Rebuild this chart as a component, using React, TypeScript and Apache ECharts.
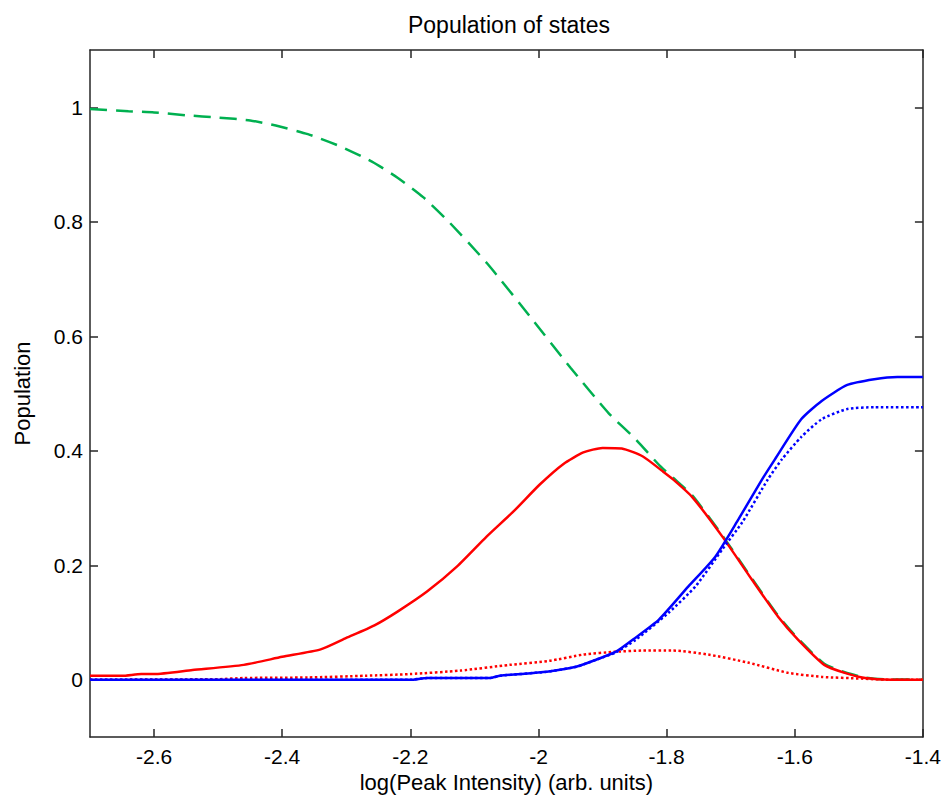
import React, { useEffect, useRef } from "react";
import * as echarts from "echarts";

// Ground state (green dashed)
const groundX = [-2.7, -2.64, -2.6, -2.55, -2.5, -2.45, -2.41, -2.36, -2.31, -2.26, -2.22, -2.18, -2.14, -2.08, -2.01, -1.95, -1.89, -1.85, -1.81, -1.79, -1.76, -1.713, -1.667, -1.626, -1.595, -1.554, -1.522, -1.49, -1.46, -1.4];
const groundY = [0.997, 0.993, 0.991, 0.986, 0.982, 0.977, 0.968, 0.953, 0.932, 0.905, 0.877, 0.843, 0.8, 0.727, 0.63, 0.545, 0.465, 0.422, 0.373, 0.353, 0.322, 0.252, 0.177, 0.112, 0.072, 0.028, 0.013, 0.004, 0.001, 0];

// Excited state (red solid)
const redX = [-2.7, -2.65, -2.62, -2.6, -2.54, -2.46, -2.4, -2.34, -2.3, -2.256, -2.22, -2.174, -2.127, -2.081, -2.039, -1.998, -1.961, -1.93, -1.9, -1.87, -1.837, -1.806, -1.79, -1.76, -1.713, -1.667, -1.626, -1.595, -1.554, -1.522, -1.49, -1.45, -1.4];
const redY = [0.007, 0.007, 0.01, 0.01, 0.017, 0.026, 0.04, 0.053, 0.073, 0.095, 0.119, 0.154, 0.198, 0.25, 0.294, 0.341, 0.377, 0.397, 0.405, 0.404, 0.39, 0.364, 0.35, 0.319, 0.25, 0.175, 0.11, 0.07, 0.026, 0.012, 0.003, 0, 0];

// Excited state (red dotted)
const redDotX = [-2.7, -2.5, -2.46, -2.36, -2.27, -2.2, -2.122, -2.045, -1.983, -1.93, -1.879, -1.837, -1.79, -1.735, -1.673, -1.61, -1.558, -1.496, -1.45, -1.4];
const redDotY = [0, 0.001, 0.003, 0.004, 0.007, 0.01, 0.016, 0.026, 0.033, 0.044, 0.049, 0.051, 0.051, 0.044, 0.03, 0.012, 0.005, 0.002, 0, 0];

// Ionised state (blue solid)
const blueX = [-2.7, -2.2, -2.174, -2.076, -2.06, -1.987, -1.94, -1.91, -1.879, -1.848, -1.812, -1.766, -1.724, -1.688, -1.651, -1.631, -1.59, -1.558, -1.518, -1.476, -1.44, -1.4];
const blueY = [0, 0, 0.003, 0.003, 0.007, 0.014, 0.023, 0.035, 0.049, 0.074, 0.105, 0.163, 0.215, 0.28, 0.35, 0.385, 0.455, 0.487, 0.515, 0.525, 0.529, 0.529];

// Ionised state (blue dotted)
const blueDotX = [-2.7, -2.2, -2.174, -2.076, -2.06, -1.987, -1.94, -1.91, -1.879, -1.848, -1.797, -1.755, -1.713, -1.682, -1.642, -1.62, -1.59, -1.558, -1.518, -1.476, -1.4];
const blueDotY = [0, 0, 0.003, 0.003, 0.007, 0.014, 0.023, 0.035, 0.048, 0.07, 0.117, 0.163, 0.228, 0.275, 0.35, 0.385, 0.424, 0.455, 0.473, 0.476, 0.476];

const xTicks = [-2.6, -2.4, -2.2, -2, -1.8, -1.6, -1.4];
const yTicks = [0, 0.2, 0.4, 0.6, 0.8, 1];

const pair = (xs: number[], ys: number[]) => xs.map((x, i) => [x, ys[i]]);

const FONT = "Liberation Sans, Arial, sans-serif";
const AX = "#262626";

export default function App() {
  const ref = useRef<HTMLDivElement>(null);
  useEffect(() => {
    if (!ref.current) return;
    const chart = echarts.init(ref.current, undefined, { renderer: "svg" });
    const baseX = {
      type: "value",
      min: -2.7,
      max: -1.4,
      axisLine: { show: true, onZero: false, lineStyle: { color: AX, width: 1.5 } },
      axisTick: { show: true, inside: true, length: 8, customValues: xTicks, lineStyle: { color: AX, width: 1.5 } },
      splitLine: { show: false },
    };
    const baseY = {
      type: "value",
      min: -0.1,
      max: 1.1,
      axisLine: { show: true, onZero: false, lineStyle: { color: AX, width: 1.5 } },
      axisTick: { show: true, inside: true, length: 8, customValues: yTicks, lineStyle: { color: AX, width: 1.5 } },
      splitLine: { show: false },
    };
    const line = (name: string, data: number[][], color: string, type: any, z: number) => ({
      name,
      type: "line",
      data,
      showSymbol: false,
      smooth: 0.2,
      z,
      lineStyle: { color, width: 2.5, type },
      itemStyle: { color },
    });
    chart.setOption({
      animation: false,
      backgroundColor: "#ffffff",
      title: {
        text: "Population of states",
        left: 504,
        top: 8,
        textAlign: "center",
        textStyle: { fontFamily: FONT, fontSize: 23, fontWeight: "normal", color: "#000" },
      },
      grid: { left: 90, right: 16, top: 50, bottom: 64, containLabel: false },
      xAxis: [
        {
          ...baseX,
          position: "bottom",
          name: "log(Peak Intensity) (arb. units)",
          nameLocation: "middle",
          nameGap: 33,
          nameTextStyle: { fontFamily: FONT, fontSize: 22, color: "#000", verticalAlign: "top" },
          axisLabel: {
            show: true,
            customValues: xTicks,
            margin: 9,
            fontFamily: FONT,
            fontSize: 21,
            color: "#000",
            formatter: (v: number) => String(v),
          },
        },
        { ...baseX, position: "top", axisLabel: { show: false } },
      ],
      yAxis: [
        {
          ...baseY,
          position: "left",
          name: "Population",
          nameLocation: "middle",
          nameGap: 57,
          nameTextStyle: { fontFamily: FONT, fontSize: 22, color: "#000" },
          axisLabel: {
            show: true,
            customValues: yTicks,
            margin: 7,
            fontFamily: FONT,
            fontSize: 21,
            color: "#000",
            formatter: (v: number) => String(v),
          },
        },
        { ...baseY, position: "right", axisLabel: { show: false } },
      ],
      series: [
        line("Ground", pair(groundX, groundY), "#00b050", [17, 9], 2),
        line("Excited", pair(redX, redY), "#ff0000", "solid", 3),
        line("Excited (dotted)", pair(redDotX, redDotY), "#ff0000", [2.5, 2.5], 4),
        line("Ionised (dotted)", pair(blueDotX, blueDotY), "#0000ff", [2.5, 2.5], 5),
        line("Ionised", pair(blueX, blueY), "#0000ff", "solid", 6),
      ],
    });
    return () => chart.dispose();
  }, []);
  return (
    <div
      ref={ref}
      style={{ position: "fixed", left: 0, top: 0, width: 944, height: 801, background: "#fff" }}
    />
  );
}
